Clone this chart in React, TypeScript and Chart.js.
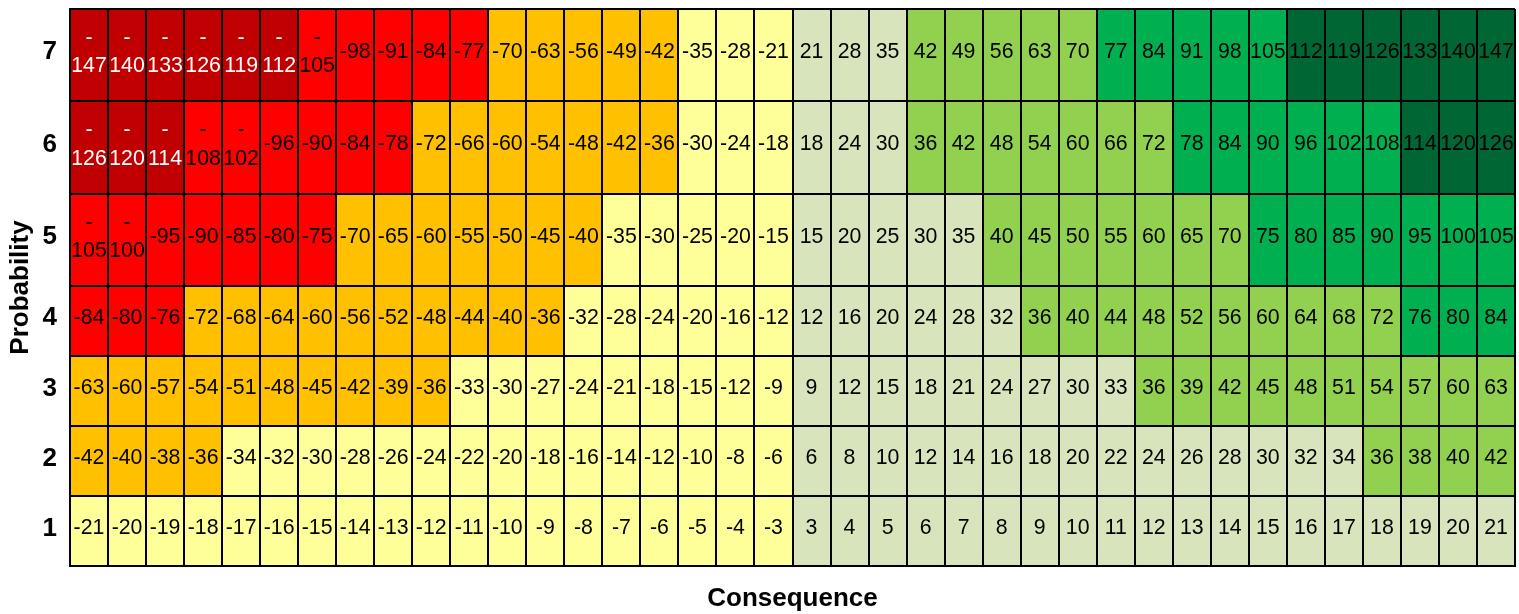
import React, { useEffect, useRef } from "react";
import { Chart, registerables } from "chart.js";

Chart.register(...registerables);

// Consequence scale, left to right
const consequences = [
  -21, -20, -19, -18, -17, -16, -15, -14, -13, -12, -11, -10, -9, -8, -7, -6, -5, -4, -3,
  3, 4, 5, 6, 7, 8, 9, 10, 11, 12, 13, 14, 15, 16, 17, 18, 19, 20, 21,
];

// Probability levels, bottom row first
const probabilities = [1, 2, 3, 4, 5, 6, 7];

// Risk scores per probability row
const riskP1 = [-21, -20, -19, -18, -17, -16, -15, -14, -13, -12, -11, -10, -9, -8, -7, -6, -5, -4, -3,
  3, 4, 5, 6, 7, 8, 9, 10, 11, 12, 13, 14, 15, 16, 17, 18, 19, 20, 21];
const riskP2 = [-42, -40, -38, -36, -34, -32, -30, -28, -26, -24, -22, -20, -18, -16, -14, -12, -10, -8, -6,
  6, 8, 10, 12, 14, 16, 18, 20, 22, 24, 26, 28, 30, 32, 34, 36, 38, 40, 42];
const riskP3 = [-63, -60, -57, -54, -51, -48, -45, -42, -39, -36, -33, -30, -27, -24, -21, -18, -15, -12, -9,
  9, 12, 15, 18, 21, 24, 27, 30, 33, 36, 39, 42, 45, 48, 51, 54, 57, 60, 63];
const riskP4 = [-84, -80, -76, -72, -68, -64, -60, -56, -52, -48, -44, -40, -36, -32, -28, -24, -20, -16, -12,
  12, 16, 20, 24, 28, 32, 36, 40, 44, 48, 52, 56, 60, 64, 68, 72, 76, 80, 84];
const riskP5 = [-105, -100, -95, -90, -85, -80, -75, -70, -65, -60, -55, -50, -45, -40, -35, -30, -25, -20, -15,
  15, 20, 25, 30, 35, 40, 45, 50, 55, 60, 65, 70, 75, 80, 85, 90, 95, 100, 105];
const riskP6 = [-126, -120, -114, -108, -102, -96, -90, -84, -78, -72, -66, -60, -54, -48, -42, -36, -30, -24, -18,
  18, 24, 30, 36, 42, 48, 54, 60, 66, 72, 78, 84, 90, 96, 102, 108, 114, 120, 126];
const riskP7 = [-147, -140, -133, -126, -119, -112, -105, -98, -91, -84, -77, -70, -63, -56, -49, -42, -35, -28, -21,
  21, 28, 35, 42, 49, 56, 63, 70, 77, 84, 91, 98, 105, 112, 119, 126, 133, 140, 147];

const riskRows = [riskP1, riskP2, riskP3, riskP4, riskP5, riskP6, riskP7];

// Row heights (layout units), bottom row first; the upper rows are taller
const rowHeights = [70, 70, 70, 70.5, 92, 93, 91.5];

const FONT = "'Liberation Sans', Arial, Helvetica, sans-serif";
const LINE = "#000000";
const GRID_W = 2;

function cellColour(v: number): string {
  const a = Math.abs(v);
  if (v < 0) {
    if (a >= 110) return "#C00000";
    if (a >= 73) return "#FF0000";
    if (a >= 36) return "#FFC000";
    return "#FFFF99";
  }
  if (a >= 110) return "#006633";
  if (a >= 73) return "#00B050";
  if (a >= 36) return "#92D050";
  return "#D8E4BC";
}

function textColour(v: number): string {
  return v <= -110 ? "#FFFFFF" : "#000000";
}

const edges: number[] = [0];
rowHeights.forEach((h) => edges.push(edges[edges.length - 1] + h));
const total = edges[edges.length - 1];
// label anchors sit slightly above each row's middle
const labelAnchors = probabilities.map((_, i) => (edges[i] + edges[i + 1]) / 2 + 2.5);

const cellLabels = {
  id: "cellLabels",
  afterDraw(chart: any) {
    const ctx = chart.ctx as CanvasRenderingContext2D;
    ctx.save();
    ctx.font = `21.3px ${FONT}`;
    ctx.textAlign = "center";
    ctx.textBaseline = "middle";
    riskRows.forEach((row, r) => {
      const meta = chart.getDatasetMeta(r);
      meta.data.forEach((el: any, j: number) => {
        const { x, y, base, width } = el.getProps(["x", "y", "base", "width"], true);
        const mid = (y + base) / 2;
        const v = row[j];
        const text = String(v);
        ctx.fillStyle = textColour(v);
        if (ctx.measureText(text).width > width) {
          // too wide for the column: break after the minus sign
          ctx.fillText(text.slice(0, 1), x, mid - 16.8);
          ctx.fillText(text.slice(1), x, mid + 11.8);
        } else {
          ctx.fillText(text, x, mid - 2.4);
        }
      });
    });
    ctx.restore();
  },
};

export default function App() {
  const canvasRef = useRef<HTMLCanvasElement | null>(null);

  useEffect(() => {
    if (!canvasRef.current) return;
    Chart.defaults.font.family = FONT;

    const chart = new Chart(canvasRef.current, {
      type: "bar",
      data: {
        labels: consequences.map(String),
        datasets: probabilities.map((p, r) => ({
          label: `Probability ${p}`,
          data: consequences.map(() => [edges[r], edges[r + 1]]) as any,
          backgroundColor: riskRows[r].map(cellColour),
          borderWidth: 0,
          barPercentage: 1,
          categoryPercentage: 1,
          grouped: false,
        })),
      },
      options: {
        animation: false,
        responsive: true,
        maintainAspectRatio: false,
        devicePixelRatio: 1,
        layout: { padding: { top: 9, right: 4, bottom: 0, left: 0 } },
        plugins: {
          legend: { display: false },
          tooltip: { enabled: false },
        },
        scales: {
          x: {
            type: "category",
            offset: true,
            grid: { offset: true, color: LINE, lineWidth: GRID_W, drawTicks: false, z: 1 },
            border: { display: true, color: LINE, width: GRID_W, z: 1 },
            ticks: { display: false },
            title: {
              display: true,
              text: "Consequence",
              color: "#000",
              font: { size: 26, weight: "bold" },
              padding: { top: 0, bottom: 0 },
            },
            afterFit: (s: any) => {
              s.height = 48;
            },
          },
          y: {
            type: "linear",
            min: 0,
            max: total,
            afterBuildTicks: (s: any) => {
              s.ticks = [...edges, ...labelAnchors]
                .sort((a, b) => a - b)
                .map((value) => ({ value }));
            },
            grid: {
              color: (c: any) =>
                c.tick && edges.includes(c.tick.value) ? LINE : "rgba(0,0,0,0)",
              lineWidth: GRID_W,
              drawTicks: false,
              z: 1,
            },
            border: { display: true, color: LINE, width: GRID_W, z: 1 },
            ticks: {
              autoSkip: false,
              padding: 13,
              crossAlign: "center",
              color: "#000",
              font: { size: 26, weight: "bold" },
              callback: (value: any) => {
                const i = labelAnchors.indexOf(Number(value));
                return i >= 0 ? String(probabilities[i]) : "";
              },
            },
            title: {
              display: true,
              text: "Probability",
              color: "#000",
              font: { size: 26, weight: "bold" },
              padding: { top: 5, bottom: 0 },
            },
            afterFit: (s: any) => {
              s.width = 70;
              s.paddingTop = 0;
              s.paddingBottom = 0;
            },
          },
        },
      } as any,
      plugins: [cellLabels],
    });

    return () => chart.destroy();
  }, []);

  return (
    <div style={{ position: "fixed", left: 0, top: 0, width: 1519, height: 614, background: "#fff" }}>
      <canvas ref={canvasRef} />
    </div>
  );
}
